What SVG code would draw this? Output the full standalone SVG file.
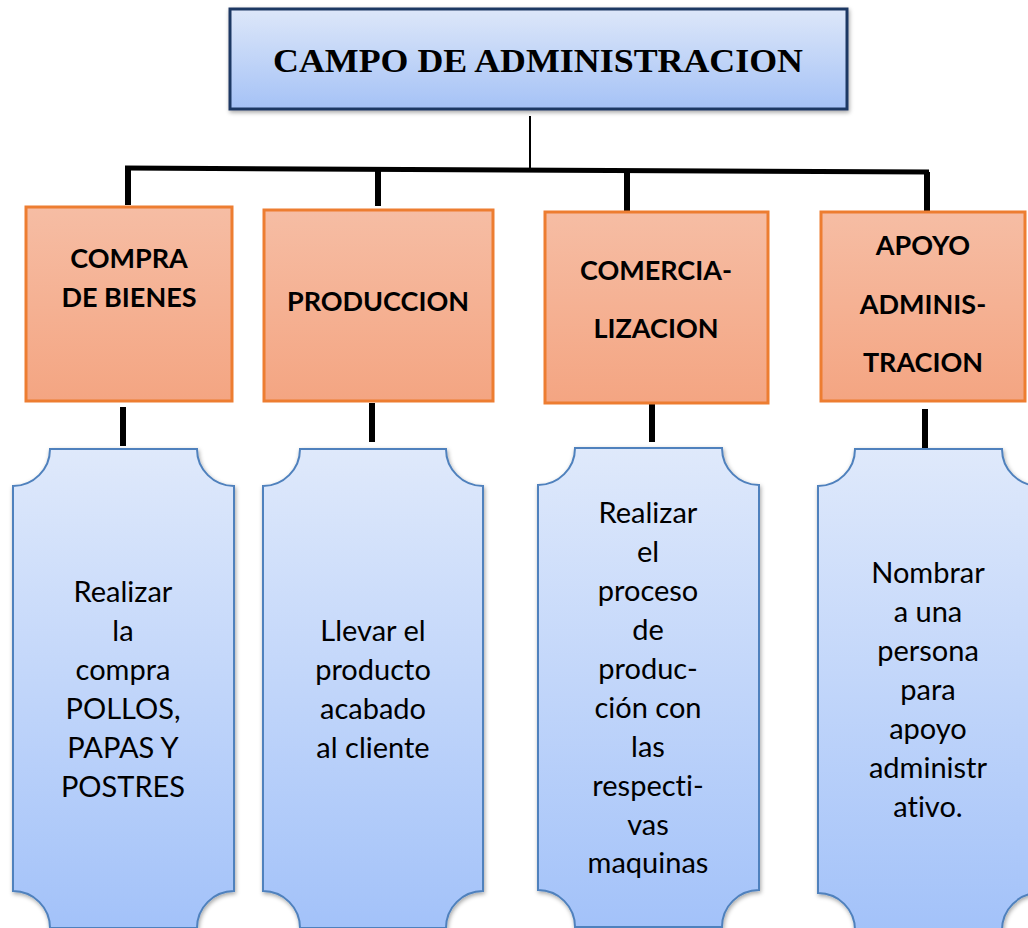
<svg xmlns="http://www.w3.org/2000/svg" width="1028" height="928" viewBox="0 0 1028 928">
<style>
.hdr{font-family:Lato,"Open Sans","Liberation Sans",sans-serif;font-weight:bold;font-size:27px;fill:#000;text-anchor:middle}
.body{font-family:Lato,"Open Sans","Liberation Sans",sans-serif;font-size:29px;fill:#000;text-anchor:middle;font-variant-ligatures:none}
.title{font-family:"Liberation Serif","DejaVu Serif",serif;font-weight:bold;font-size:34px;fill:#000;text-anchor:middle}
.obox{fill:url(#og);stroke:#ed7d31;stroke-width:3}
.bbox{fill:url(#bg);stroke:#4f81bd;stroke-width:2;filter:url(#sh)}
.thick{stroke:#000;stroke-width:6;fill:none}
</style>
<defs>
<linearGradient id="og" x1="0" y1="0" x2="0" y2="1"><stop offset="0" stop-color="#f6bda4"/><stop offset="1" stop-color="#f4a582"/></linearGradient>
<linearGradient id="bg" x1="0" y1="0" x2="0" y2="1"><stop offset="0" stop-color="#dfe9fb"/><stop offset="1" stop-color="#a3c2f9"/></linearGradient>
<linearGradient id="tg" x1="0" y1="0" x2="0" y2="1"><stop offset="0" stop-color="#dde7f9"/><stop offset="1" stop-color="#a5c2f6"/></linearGradient>
<filter id="sh" x="-10%" y="-10%" width="130%" height="130%"><feDropShadow dx="1" dy="2" stdDeviation="2" flood-color="#000" flood-opacity="0.35"/></filter>
</defs>

<g id="connectors">
<line x1="530" y1="116" x2="530" y2="168" stroke="#000" stroke-width="2"/>
<line x1="125" y1="168" x2="929" y2="172" stroke="#000" stroke-width="5"/>
<line class="thick" x1="128" y1="168" x2="128" y2="205"/>
<line class="thick" x1="378" y1="169" x2="378" y2="206"/>
<line class="thick" x1="627" y1="171" x2="627" y2="212"/>
<line class="thick" x1="927" y1="172" x2="927" y2="214"/>
<line class="thick" x1="123" y1="407" x2="123" y2="446"/>
<line class="thick" x1="372" y1="403" x2="372" y2="442"/>
<line class="thick" x1="652" y1="403" x2="652" y2="442"/>
<line class="thick" x1="925" y1="409" x2="925" y2="448"/>
</g>

<g id="n-title">
<rect x="230" y="9" width="617" height="100" fill="url(#tg)" stroke="#1f3864" stroke-width="3" filter="url(#sh)"/>
<text class="title" x="538" y="72" textLength="530" lengthAdjust="spacingAndGlyphs">CAMPO DE ADMINISTRACION</text>
</g>

<g id="n-compra">
<rect class="obox" x="26" y="207" width="206" height="194"/>
<text class="hdr" x="129" y="268">COMPRA</text>
<text class="hdr" x="129" y="307">DE BIENES</text>
</g>
<g id="n-produccion">
<rect class="obox" x="264" y="210" width="229" height="191"/>
<text class="hdr" x="378" y="311">PRODUCCION</text>
</g>
<g id="n-comercializacion">
<rect class="obox" x="545" y="212" width="223" height="191"/>
<text class="hdr" x="656" y="280">COMERCIA-</text>
<text class="hdr" x="656" y="338">LIZACION</text>
</g>
<g id="n-apoyo">
<rect class="obox" x="821" y="212" width="204" height="189"/>
<text class="hdr" x="923" y="255">APOYO</text>
<text class="hdr" x="923" y="314">ADMINIS-</text>
<text class="hdr" x="923" y="372">TRACION</text>
</g>

<g id="d-compra">
<path class="bbox" d="M50,449 H197 A37,37 0 0 0 234,486 V891 A37,37 0 0 0 197,928 H50 A37,37 0 0 0 13,891 V486 A37,37 0 0 0 50,449 Z"/>
<text class="body" x="123" y="602">Realizar</text>
<text class="body" x="123" y="641">la</text>
<text class="body" x="123" y="680">compra</text>
<text class="body" x="123" y="719">POLLOS,</text>
<text class="body" x="123" y="758">PAPAS Y</text>
<text class="body" x="123" y="797">POSTRES</text>
</g>
<g id="d-produccion">
<path class="bbox" d="M300,449 H446 A37,37 0 0 0 483,486 V891 A37,37 0 0 0 446,928 H300 A37,37 0 0 0 263,891 V486 A37,37 0 0 0 300,449 Z"/>
<text class="body" x="373" y="641">Llevar el</text>
<text class="body" x="373" y="680">producto</text>
<text class="body" x="373" y="719">acabado</text>
<text class="body" x="373" y="758">al cliente</text>
</g>
<g id="d-comercializacion">
<path class="bbox" d="M575,448 H722 A37,37 0 0 0 759,485 V890 A37,37 0 0 0 722,927 H575 A37,37 0 0 0 538,890 V485 A37,37 0 0 0 575,448 Z"/>
<text class="body" x="648" y="523">Realizar</text>
<text class="body" x="648" y="562">el</text>
<text class="body" x="648" y="601">proceso</text>
<text class="body" x="648" y="640">de</text>
<text class="body" x="648" y="679">produc-</text>
<text class="body" x="648" y="718">ción con</text>
<text class="body" x="648" y="757">las</text>
<text class="body" x="648" y="796">respecti-</text>
<text class="body" x="648" y="835">vas</text>
<text class="body" x="648" y="873">maquinas</text>
</g>
<g id="d-apoyo">
<path class="bbox" d="M855,449 H1002 A37,37 0 0 0 1039,486 V893 A37,37 0 0 0 1002,930 H855 A37,37 0 0 0 818,893 V486 A37,37 0 0 0 855,449 Z"/>
<text class="body" x="928" y="583">Nombrar</text>
<text class="body" x="928" y="622">a una</text>
<text class="body" x="928" y="661">persona</text>
<text class="body" x="928" y="700">para</text>
<text class="body" x="928" y="739">apoyo</text>
<text class="body" x="928" y="778">administr</text>
<text class="body" x="928" y="817">ativo.</text>
</g>
</svg>
